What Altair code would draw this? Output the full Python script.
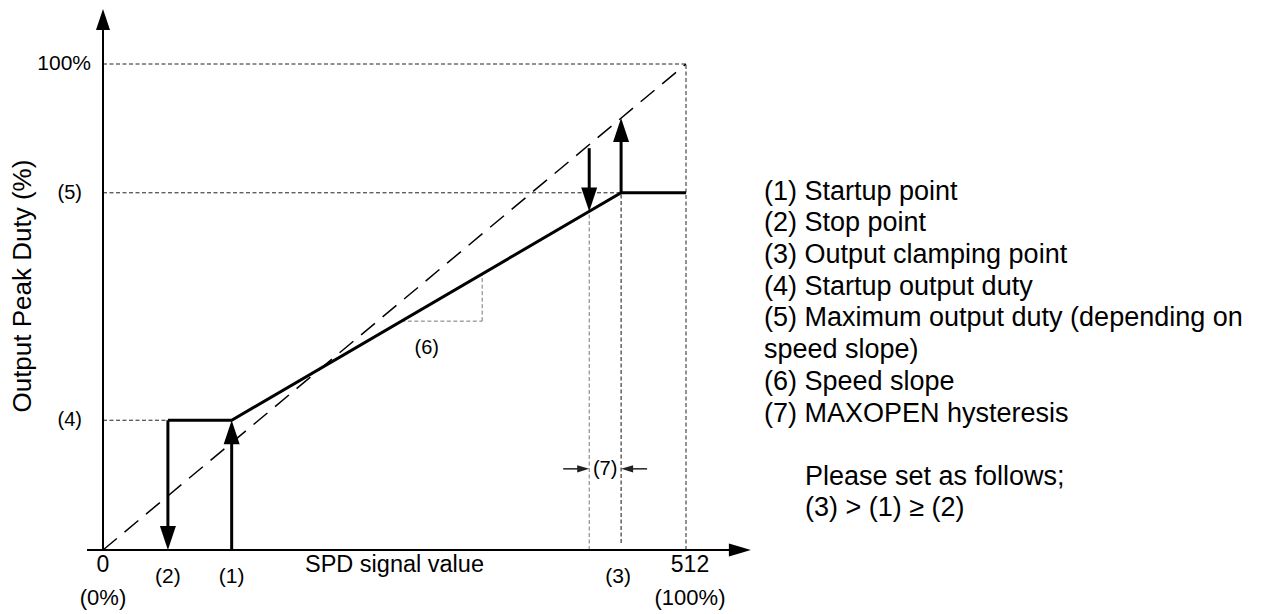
import altair as alt
import pandas as pd

# ---------------- values ----------------
# SPD signal value (0..512) and output peak duty (%)
x_stop = 57        # (2) stop point
x_start = 113      # (1) startup point
x_hyst = 427       # (3) - (7) MAXOPEN hysteresis
x_clamp = 455      # (3) output clamping point
x_full = 512
y_start = 26.7     # (4) startup output duty
y_max = 73.5       # (5) maximum output duty
y_full = 100
tri_x = [262, 333]  # speed-slope triangle
hyst_level = 16.7   # level of the (7) marker

legend_lines = [
    "(1) Startup point",
    "(2) Stop point",
    "(3) Output clamping point",
    "(4) Startup output duty",
    "(5) Maximum output duty (depending on",
    "speed slope)",
    "(6) Speed slope",
    "(7) MAXOPEN hysteresis",
]
note_lines = ["Please set as follows;", "(3) > (1) \u2265 (2)"]

# ---------------- layout ----------------
W, H = 1265, 606
OX, OY = 95, 542          # plot-pixel position of (0, 0)
PX_X = 583 / 512          # pixels per SPD unit
PX_Y = 4.86               # pixels per %
FONT = "Liberation Sans"

xdom = [-OX / PX_X, (W - OX) / PX_X]
ydom = [-(H - OY) / PX_Y, OY / PX_Y]
xs = alt.Scale(domain=xdom, nice=False, zero=False)
ys = alt.Scale(domain=ydom, nice=False, zero=False)


def px_x(p):
    return p / PX_X


def px_y(p):
    return p / PX_Y


def diag(x):
    return x / x_full * y_full


def slope(x):
    return y_start + (x - x_start) / (x_clamp - x_start) * (y_max - y_start)


y_top = 111.3
x_end = 569

UP = "M0,0L-0.667,2L0.667,2Z"
DOWN = "M0,0L-0.667,-2L0.667,-2Z"
RIGHT = "M0,0L-2,-0.6L-2,0.6Z"
LEFT = "M0,0L2,-0.6L2,0.6Z"


def seg_layer(rows, **mark):
    df = pd.DataFrame(rows, columns=["x", "x2", "y", "y2", "c"])
    return alt.Chart(df).mark_rule(**mark).encode(
        x=alt.X("x:Q", scale=xs, axis=None),
        x2="x2:Q",
        y=alt.Y("y:Q", scale=ys, axis=None),
        y2="y2:Q",
        color=alt.Color("c:N", scale=None),
    )


# thin dashed guide lines
guides = seg_layer([
    (0, x_full, y_full, y_full, "#222"),
    (x_full, x_full, 0, y_full, "#222"),
    (0, x_clamp, y_max, y_max, "#222"),
    (0, x_stop, y_start, y_start, "#222"),
    (x_hyst, x_hyst, 0, slope(x_hyst), "#777"),
    (x_clamp, x_clamp, px_y(7), y_max, "#111"),
    (tri_x[1], tri_x[1], slope(tri_x[0]), slope(tri_x[1]), "#777"),
    (tri_x[0], tri_x[1], slope(tri_x[0]), slope(tri_x[0]), "#777"),
], strokeWidth=1, strokeDash=[4, 2.5])

diagonal = seg_layer([(0, x_full, 0, y_full, "#000")],
                     strokeWidth=1.5, strokeDash=[18, 10])

axes = seg_layer([
    (0, 0, 0, y_top - px_y(17), "#000"),
    (px_x(-16), x_end - px_x(18), 0, 0, "#000"),
], strokeWidth=2)

shafts = seg_layer([
    (x_stop, x_stop, y_start, px_y(21), "#000"),
    (x_start, x_start, 0, y_start - px_y(21), "#000"),
    (x_hyst, x_hyst, diag(x_hyst) - px_y(3.5), slope(x_hyst) + px_y(21), "#000"),
    (x_clamp, x_clamp, y_max, diag(x_clamp) - px_y(21), "#000"),
], strokeWidth=3)

small = seg_layer([
    (x_hyst - px_x(26), x_hyst - px_x(9), hyst_level, hyst_level, "#222"),
    (x_clamp + px_x(26), x_clamp + px_x(9), hyst_level, hyst_level, "#222"),
], strokeWidth=1.5)

main_df = pd.DataFrame({
    "x": [x_stop, x_start, x_clamp, x_full],
    "y": [y_start, y_start, y_max, y_max],
    "o": [0, 1, 2, 3],
})
main = alt.Chart(main_df).mark_line(color="#000", strokeWidth=3, strokeJoin="miter").encode(
    x=alt.X("x:Q", scale=xs, axis=None),
    y=alt.Y("y:Q", scale=ys, axis=None),
    order="o:Q",
)

heads_df = pd.DataFrame([
    (x_stop, 0, DOWN, 576, "#000"),
    (x_start, y_start, UP, 576, "#000"),
    (x_hyst, slope(x_hyst), DOWN, 576, "#000"),
    (x_clamp, diag(x_clamp), UP, 576, "#000"),
    (0, y_top, UP, 441, "#000"),
    (x_end, 0, RIGHT, 484, "#000"),
    (x_hyst, hyst_level, RIGHT, 144, "#222"),
    (x_clamp, hyst_level, LEFT, 144, "#222"),
], columns=["x", "y", "s", "sz", "c"])
heads = alt.Chart(heads_df).mark_point(filled=True, opacity=1, strokeWidth=0).encode(
    x=alt.X("x:Q", scale=xs, axis=None),
    y=alt.Y("y:Q", scale=ys, axis=None),
    shape=alt.Shape("s:N", scale=None),
    size=alt.Size("sz:Q", scale=None),
    color=alt.Color("c:N", scale=None),
)


def text_layer(rows, align, **mark):
    df = pd.DataFrame(rows, columns=["t", "x", "y", "fs"])
    return alt.Chart(df).mark_text(align=align, baseline="middle", font=FONT,
                                   color="#000", **mark).encode(
        x=alt.X("x:Q", scale=xs, axis=None),
        y=alt.Y("y:Q", scale=ys, axis=None),
        text="t:N",
        size=alt.Size("fs:Q", scale=None),
    )


center_labels = text_layer([
    ("0", 0, -px_y(15), 23),
    ("(0%)", 0, -px_y(48), 22),
    ("(2)", x_stop, -px_y(27), 21),
    ("(1)", x_start, -px_y(27), 21),
    ("(3)", x_clamp - px_x(3), -px_y(27), 21),
    ("512", x_full + px_x(4), -px_y(15), 23),
    ("(100%)", x_full + px_x(4), -px_y(48), 22),
    ("SPD signal value", 256, -px_y(15), 23.5),
    ("(6)", sum(tri_x) / 2 - px_x(15), slope(tri_x[0]) - px_y(27), 20),
    ("(7)", (x_hyst + x_clamp) / 2, hyst_level, 20),
], "center")

right_labels = text_layer([
    ("100%", -px_x(12), y_full, 21),
    ("(5)", -px_x(21), y_max, 20),
    ("(4)", -px_x(21), y_start, 20),
], "right")

ytitle = alt.Chart(pd.DataFrame({"t": ["Output Peak Duty (%)"], "x": [-px_x(80.5)], "y": [54.3]})).mark_text(
    angle=270, align="center", baseline="middle", font=FONT, fontSize=26, color="#000"
).encode(
    x=alt.X("x:Q", scale=xs, axis=None),
    y=alt.Y("y:Q", scale=ys, axis=None),
    text="t:N",
)

legend = alt.Chart(pd.DataFrame({"a": [0]})).mark_text(
    align="left", baseline="top", font=FONT, fontSize=27, lineHeight=31.7, color="#000"
).encode(x=alt.value(756), y=alt.value(170.7), text=alt.value(legend_lines))

note = alt.Chart(pd.DataFrame({"a": [0]})).mark_text(
    align="left", baseline="top", font=FONT, fontSize=27, lineHeight=31.7, color="#000"
).encode(x=alt.value(797), y=alt.value(455.7), text=alt.value(note_lines))

chart = alt.layer(
    guides, diagonal, axes, main, shafts, small, heads,
    center_labels, right_labels, ytitle, legend, note,
).properties(
    width=W, height=H, padding=0, autosize=alt.AutoSizeParams(type="none"),
    background="white",
).configure_view(stroke=None)

chart.save("out.html", embed_options={"renderer": "svg", "actions": False})
